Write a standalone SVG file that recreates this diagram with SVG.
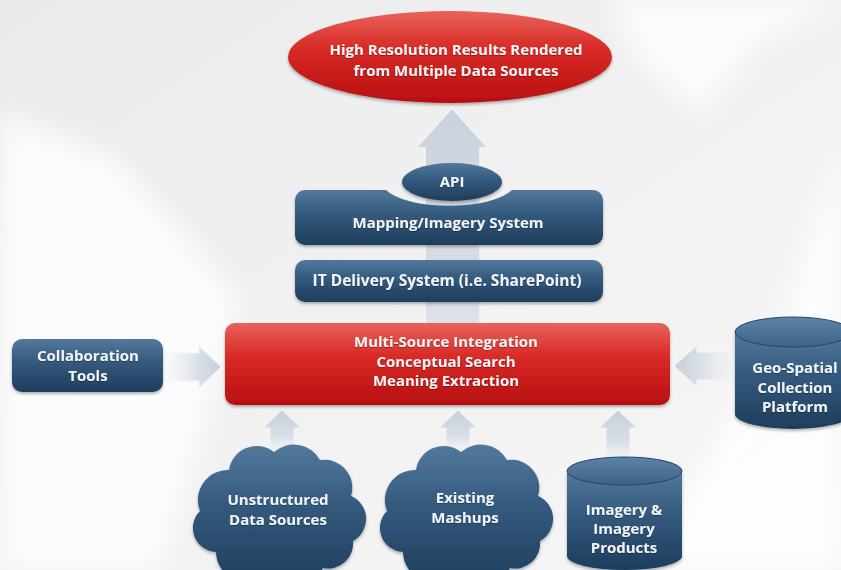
<svg xmlns="http://www.w3.org/2000/svg" width="841" height="570" viewBox="0 0 841 570">
<defs>
  <style>
    .lbl{font-family:"Open Sans","DejaVu Sans",sans-serif;font-weight:700;font-size:15px;fill:#f1f4f7;text-anchor:middle;filter:url(#ts);}
    .blue{fill:url(#gBlue);filter:url(#sh);}
    .red{fill:url(#gRed);filter:url(#sh);}
    .cyltop{fill:url(#gTop);stroke:#23466a;stroke-width:1;}
  </style>
  <linearGradient id="gBg" x1="0" y1="0" x2="1" y2="1">
    <stop offset="0" stop-color="#e9eaeb"/>
    <stop offset="0.5" stop-color="#f1f1f2"/>
    <stop offset="1" stop-color="#f6f6f7"/>
  </linearGradient>
  <linearGradient id="gBlue" x1="0" y1="0" x2="0" y2="1">
    <stop offset="0" stop-color="#52799c"/>
    <stop offset="0.45" stop-color="#33597d"/>
    <stop offset="1" stop-color="#1e3d5c"/>
  </linearGradient>
  <linearGradient id="gTop" x1="0" y1="0" x2="0" y2="1">
    <stop offset="0" stop-color="#5d83a5"/>
    <stop offset="1" stop-color="#3c6287"/>
  </linearGradient>
  <linearGradient id="gRed" x1="0" y1="0" x2="0" y2="1">
    <stop offset="0" stop-color="#e8635c"/>
    <stop offset="0.4" stop-color="#d82b26"/>
    <stop offset="1" stop-color="#b80f10"/>
  </linearGradient>
  <linearGradient id="gUp" x1="0" y1="0" x2="0" y2="1">
    <stop offset="0" stop-color="#c6cfda"/>
    <stop offset="0.6" stop-color="#d8dee6"/>
    <stop offset="1" stop-color="#eef0f3" stop-opacity="0.4"/>
  </linearGradient>
  <linearGradient id="gBig" x1="0" y1="0" x2="0" y2="1">
    <stop offset="0" stop-color="#c9d1dc"/>
    <stop offset="1" stop-color="#dde2e9"/>
  </linearGradient>
  <linearGradient id="gRight" x1="0" y1="0" x2="1" y2="0">
    <stop offset="0" stop-color="#eef0f3" stop-opacity="0.3"/>
    <stop offset="0.6" stop-color="#d8dee6"/>
    <stop offset="1" stop-color="#c6cfda"/>
  </linearGradient>
  <linearGradient id="gLeft" x1="1" y1="0" x2="0" y2="0">
    <stop offset="0" stop-color="#eef0f3" stop-opacity="0.3"/>
    <stop offset="0.6" stop-color="#d8dee6"/>
    <stop offset="1" stop-color="#c6cfda"/>
  </linearGradient>
  <filter id="sh" x="-10%" y="-10%" width="120%" height="130%">
    <feDropShadow dx="0" dy="2" stdDeviation="1.5" flood-color="#000" flood-opacity="0.3"/>
  </filter>
  <filter id="ts" x="-5%" y="-20%" width="110%" height="140%">
    <feDropShadow dx="0" dy="0.6" stdDeviation="0.5" flood-color="#000" flood-opacity="0.55"/>
  </filter>
  <filter id="blur" x="-20%" y="-20%" width="140%" height="140%">
    <feGaussianBlur stdDeviation="12"/>
  </filter>
  <path id="cloud" d="M -62,44 A 24,24 0 0 1 -78,3 A 30,30 0 0 1 -49,-38 A 28,28 0 0 1 -4,-56 A 30,30 0 0 1 42,-48 A 28,28 0 0 1 73,-12 A 25,25 0 0 1 75,33 A 25,25 0 0 1 45,60 A 32,32 0 0 1 -10,64 A 30,30 0 0 1 -62,44 Z"/>
</defs>

<!-- background -->
<rect width="841" height="570" fill="url(#gBg)"/>
<g fill="#ffffff" opacity="0.8" filter="url(#blur)">
  <polygon points="0,110 120,160 240,300 160,570 0,570"/>
  <polygon points="610,0 840,0 760,40 700,110 640,60"/>
  <polygon points="841,140 841,570 640,570 780,330"/>
</g>

<!-- connectors -->
<g id="connectors">
  <polygon points="452,108 488,148 480,148 480,330 425,330 425,148 416,148" fill="url(#gBig)" stroke="#f4f6f8" stroke-width="1.5"/>
  <polygon points="282,410 301,428 294,428 294,452 270,452 270,428 263,428" fill="url(#gUp)" stroke="#f4f6f8" stroke-width="1"/>
  <polygon points="458,410 477,428 470,428 470,452 446,452 446,428 439,428" fill="url(#gUp)" stroke="#f4f6f8" stroke-width="1"/>
  <polygon points="618,410 637,428 630,428 630,462 606,462 606,428 599,428" fill="url(#gUp)" stroke="#f4f6f8" stroke-width="1"/>
  <polygon points="221,367 199,346 199,353 166,353 166,381 199,381 199,388" fill="url(#gRight)" stroke="#f4f6f8" stroke-width="1"/>
  <polygon points="674,366 697,345 697,352 735,352 735,380 697,380 697,387" fill="url(#gLeft)" stroke="#f4f6f8" stroke-width="1"/>
</g>

<!-- top result ellipse -->
<g id="results">
  <ellipse class="red" cx="450" cy="57" rx="162" ry="46"/>
  <text class="lbl" x="456" y="55">High Resolution Results Rendered</text>
  <text class="lbl" x="456" y="76">from Multiple Data Sources</text>
</g>

<!-- mapping system with notch -->
<g id="mapping">
  <path class="blue" d="M 305,190 H 386 A 67,24 0 0 0 512,190 H 593 A 10,10 0 0 1 603,200 V 235 A 10,10 0 0 1 593,245 H 305 A 10,10 0 0 1 295,235 V 200 A 10,10 0 0 1 305,190 Z"/>
  <text class="lbl" x="448" y="228">Mapping/Imagery System</text>
</g>

<g id="api">
  <ellipse class="blue" cx="452" cy="182" rx="50" ry="19"/>
  <text class="lbl" x="452" y="187">API</text>
</g>

<g id="itdelivery">
  <rect class="blue" x="295" y="260" width="308" height="42" rx="10"/>
  <text class="lbl" x="447" y="286" style="font-size:15.5px">IT Delivery System (i.e. SharePoint)</text>
</g>

<g id="integration">
  <rect class="red" x="225" y="323" width="445" height="82" rx="10"/>
  <text class="lbl" x="446" y="347">Multi-Source Integration</text>
  <text class="lbl" x="446" y="367">Conceptual Search</text>
  <text class="lbl" x="446" y="386">Meaning Extraction</text>
</g>

<g id="collaboration">
  <rect class="blue" x="12" y="339" width="151" height="53" rx="10"/>
  <text class="lbl" x="88" y="361">Collaboration</text>
  <text class="lbl" x="88" y="381">Tools</text>
</g>

<g id="geospatial">
  <path class="blue" d="M 735,332 V 414 A 58,15 0 0 0 851,414 V 332 Z"/>
  <ellipse class="cyltop" cx="793" cy="332" rx="58" ry="15"/>
  <text class="lbl" x="795" y="373">Geo-Spatial</text>
  <text class="lbl" x="795" y="393">Collection</text>
  <text class="lbl" x="795" y="412">Platform</text>
</g>

<g id="unstructured">
  <use href="#cloud" class="blue" transform="translate(278,508)"/>
  <text class="lbl" x="278" y="505">Unstructured</text>
  <text class="lbl" x="278" y="525">Data Sources</text>
</g>

<g id="mashups">
  <use href="#cloud" class="blue" transform="translate(465,508)"/>
  <text class="lbl" x="465" y="503">Existing</text>
  <text class="lbl" x="465" y="523">Mashups</text>
</g>

<g id="imagery">
  <path class="blue" d="M 567,471 V 556 A 57.5,14 0 0 0 682,556 V 471 Z"/>
  <ellipse class="cyltop" cx="624.5" cy="471" rx="57.5" ry="14"/>
  <text class="lbl" x="624" y="515">Imagery &amp;</text>
  <text class="lbl" x="624" y="534">Imagery</text>
  <text class="lbl" x="624" y="553">Products</text>
</g>
</svg>
